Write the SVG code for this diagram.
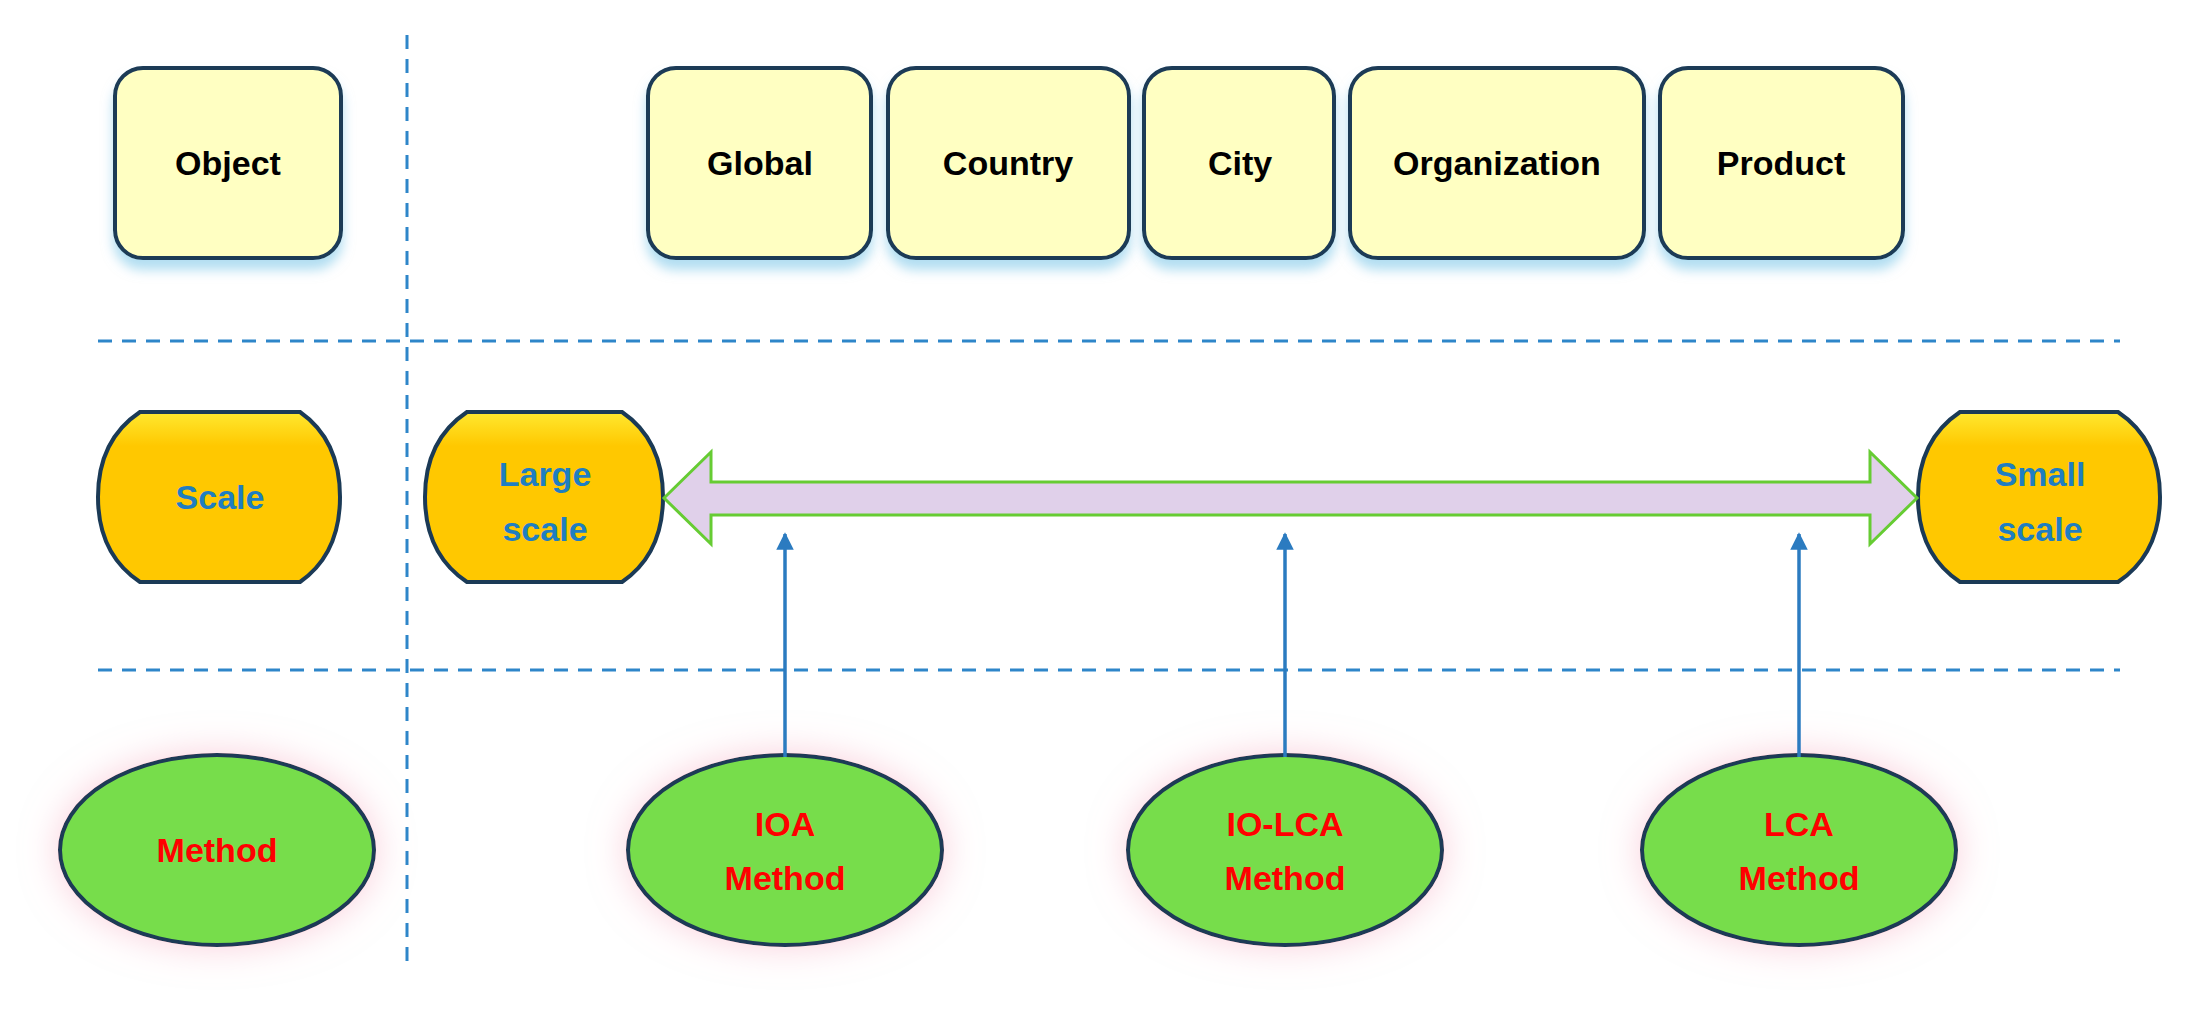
<svg xmlns="http://www.w3.org/2000/svg" width="2199" height="1025" viewBox="0 0 2199 1025">
<defs>
<style>
.t{font-family:"Liberation Sans",Arial,sans-serif;font-weight:bold;font-size:34px;text-anchor:middle}
.obj{fill:#FFFFC2;stroke:#1B3A56;stroke-width:4;filter:url(#bs)}
.sc{fill:#FFC800;stroke:#1B3A56;stroke-width:4}
.me{fill:#77DD4C;stroke:#1B3A56;stroke-width:4;filter:url(#ps)}
.dash{stroke:#2E86C9;stroke-width:3;stroke-dasharray:14 10;fill:none}
.up{stroke:#2B7BC0;stroke-width:3.5;fill:none;marker-end:url(#ah)}
</style>
<filter id="bs" x="-20%" y="-20%" width="140%" height="150%"><feDropShadow dx="0" dy="10" stdDeviation="6" flood-color="#7FC8E8" flood-opacity="0.6"/></filter>
<filter id="ps" x="-40%" y="-40%" width="180%" height="180%"><feDropShadow dx="0" dy="0" stdDeviation="18" flood-color="#F4A0B8" flood-opacity="0.5"/></filter>
<linearGradient id="og" x1="0" y1="0" x2="0" y2="1"><stop offset="0" stop-color="#FFE830"/><stop offset="0.2" stop-color="#FFC800"/></linearGradient>
<marker id="ah" viewBox="0 0 10 10" refX="9" refY="5" markerWidth="5" markerHeight="5" orient="auto"><path d="M0,0L10,5L0,10z" fill="#2B7BC0"/></marker>
</defs>
<rect width="2199" height="1025" fill="#ffffff"/>
<g id="grid">
<line class="dash" x1="407" y1="35" x2="407" y2="970"/>
<line class="dash" x1="98" y1="341" x2="2120" y2="341"/>
<line class="dash" x1="98" y1="670" x2="2120" y2="670"/>
</g>
<g id="n-object"><rect class="obj" x="115" y="68" width="226" height="190" rx="28"/><text class="t" x="228" y="175">Object</text></g>
<g id="n-global"><rect class="obj" x="648" y="68" width="223" height="190" rx="28"/><text class="t" x="760" y="175">Global</text></g>
<g id="n-country"><rect class="obj" x="888" y="68" width="241" height="190" rx="28"/><text class="t" x="1008" y="175">Country</text></g>
<g id="n-city"><rect class="obj" x="1144" y="68" width="190" height="190" rx="28"/><text class="t" x="1240" y="175">City</text></g>
<g id="n-org"><rect class="obj" x="1350" y="68" width="294" height="190" rx="28"/><text class="t" x="1497" y="175">Organization</text></g>
<g id="n-product"><rect class="obj" x="1660" y="68" width="243" height="190" rx="28"/><text class="t" x="1781" y="175">Product</text></g>
<g id="n-scale"><path class="sc" fill="url(#og)" style="fill:url(#og)" d="M140,412 H300 Q340,440 340,497 Q340,554 300,582 H140 Q98,554 98,497 Q98,440 140,412 Z"/><text class="t" x="220" y="509" fill="#1F7EC1">Scale</text></g>
<g id="n-large"><path class="sc" style="fill:url(#og)" d="M467,412 H622 Q663,440 663,497 Q663,554 622,582 H467 Q425,554 425,497 Q425,440 467,412 Z"/><text class="t" x="545" y="486" fill="#1F7EC1">Large</text><text class="t" x="545" y="541" fill="#1F7EC1">scale</text></g>
<g id="n-small"><path class="sc" style="fill:url(#og)" d="M1960,412 H2118 Q2160,440 2160,497 Q2160,554 2118,582 H1960 Q1918,554 1918,497 Q1918,440 1960,412 Z"/><text class="t" x="2040" y="486" fill="#1F7EC1">Small</text><text class="t" x="2040" y="541" fill="#1F7EC1">scale</text></g>
<g id="n-method"><ellipse class="me" cx="217" cy="850" rx="157" ry="95"/><text class="t" x="217" y="862" fill="#FF0000">Method</text></g>
<g id="n-ioa"><ellipse class="me" cx="785" cy="850" rx="157" ry="95"/><text class="t" x="785" y="836" fill="#FF0000">IOA</text><text class="t" x="785" y="890" fill="#FF0000">Method</text></g>
<g id="n-iolca"><ellipse class="me" cx="1285" cy="850" rx="157" ry="95"/><text class="t" x="1285" y="836" fill="#FF0000">IO-LCA</text><text class="t" x="1285" y="890" fill="#FF0000">Method</text></g>
<g id="n-lca"><ellipse class="me" cx="1799" cy="850" rx="157" ry="95"/><text class="t" x="1799" y="836" fill="#FF0000">LCA</text><text class="t" x="1799" y="890" fill="#FF0000">Method</text></g>
<g id="connectors">
<path d="M664,498 L711,452 V482 H1870 V452 L1917,498 L1870,544 V515 H711 V544 Z" fill="#E0D0EA" stroke="#66CC33" stroke-width="3" stroke-linejoin="miter"/>
<line class="up" x1="785" y1="757" x2="785" y2="534"/>
<line class="up" x1="1285" y1="757" x2="1285" y2="534"/>
<line class="up" x1="1799" y1="757" x2="1799" y2="534"/>
</g>
</svg>
